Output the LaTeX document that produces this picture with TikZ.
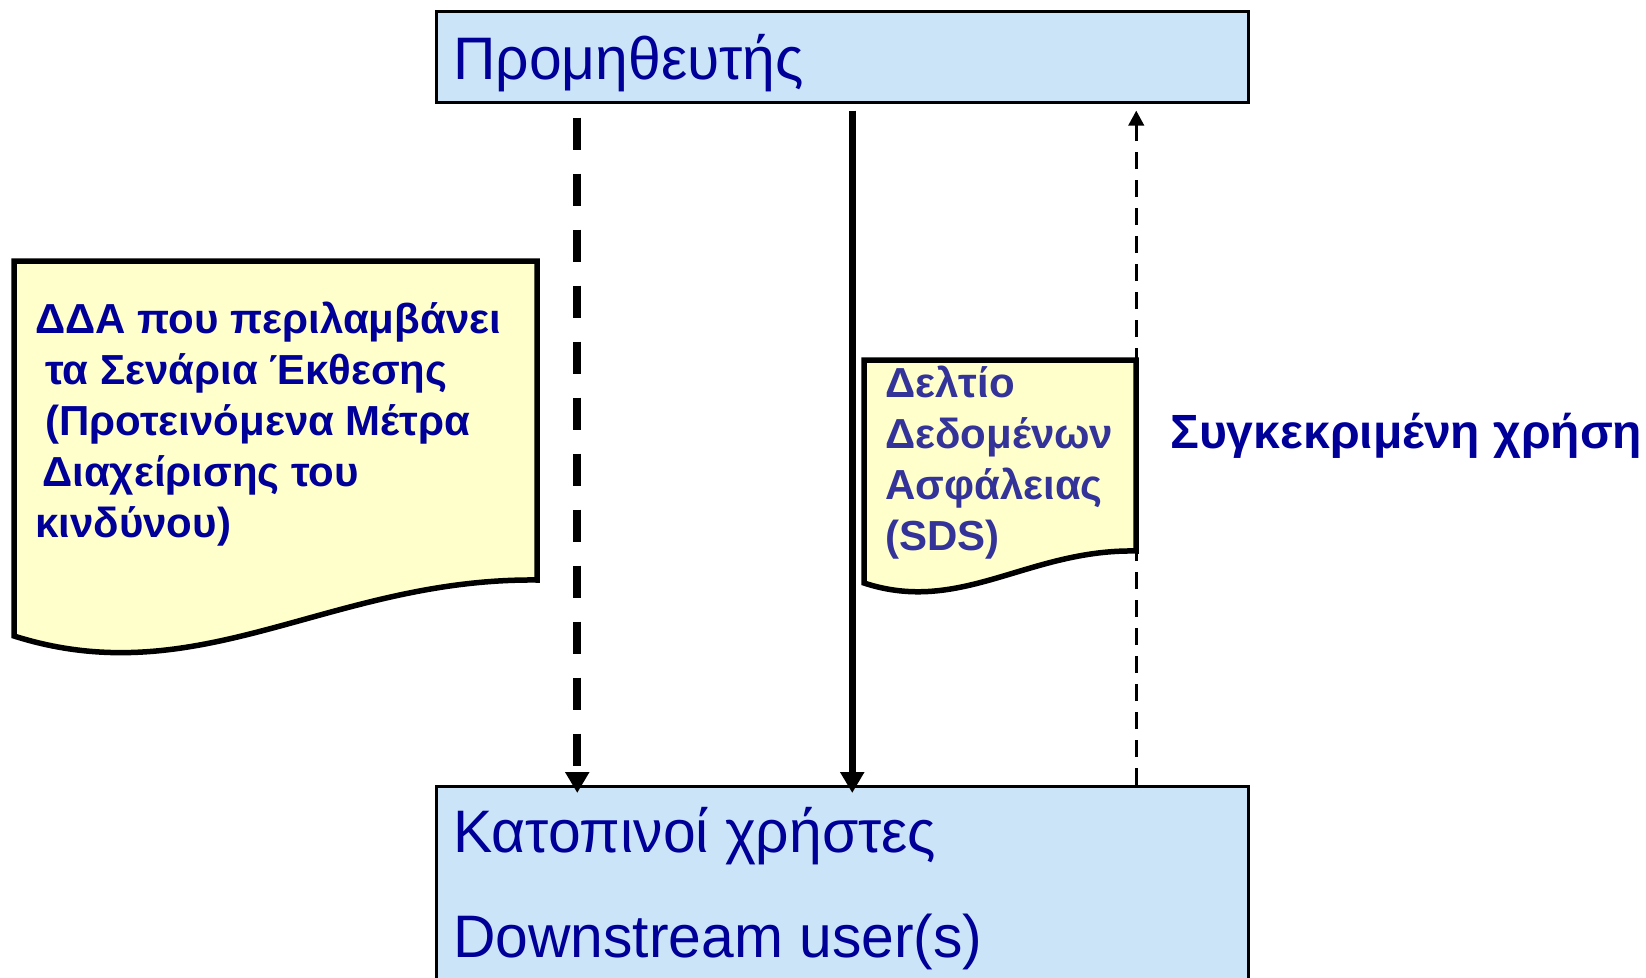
\documentclass[tikz,border=0pt]{standalone}
\usepackage{fontspec}
\setmainfont{Liberation Sans}
\newfontfamily\narrowfont[FakeStretch=0.98]{Liberation Sans}
\usetikzlibrary{arrows.meta}
\definecolor{boxblue}{HTML}{CCE4F7}
\definecolor{notey}{HTML}{FFFFCC}
\definecolor{inkblue}{HTML}{000099}
\definecolor{softblue}{HTML}{333399}

\begin{document}
\begin{tikzpicture}[x=1pt,y=-1pt,
    role box/.style={draw=black,line width=2.5pt,fill=boxblue,anchor=north west,
      minimum width=812pt,inner sep=0pt},
    role text/.style={anchor=base west,inner sep=0pt,text=inkblue,
      font=\narrowfont\fontsize{60}{72}\selectfont},
    note/.style={draw=black,line width=5.5pt,fill=notey},
    note text/.style={anchor=base west,inner sep=0pt,align=left,
      font=\bfseries\fontsize{42}{51}\selectfont},
    heavy dash/.style={line width=8pt,dash pattern=on 32pt off 24pt,
      -{Triangle[length=21pt,width=23pt]}},
    heavy line/.style={line width=7pt,-{Triangle[length=21pt,width=23pt]}},
    light dash/.style={line width=3.5pt,dash pattern=on 17pt off 11pt,
      -{Triangle[length=15pt,width=15pt]}}]
    \useasboundingbox (0,0) rectangle (1646,977);
    % supplier and downstream users
    \node[role box,minimum height=91pt] (sup) at (435,10) {};
    \node[role text] (supText) at (453,79) {Προμηθευτής};
    \node[role box,minimum height=230pt] (dsu) at (435,785) {};
    \node[role text] (dsuGr) at (453,852) {Κατοπινοί χρήστες};
    \node[role text] (dsuEn) at (453,957) {Downstream user(s)};
    % documents
    \draw[note] (14,261) -- (537,261) -- (537,580)
      .. controls (330,578) and (200,695) .. (14,636) -- cycle;
    \node[note text,text=inkblue] (ddaText) at (35,537)
      {ΔΔΑ που περιλαμβάνει\\\hspace*{10pt}τα Σενάρια Έκθεσης\\
       \hspace*{10pt}(Προτεινόμενα Μέτρα\\\hspace*{7pt}Διαχείρισης του\\κινδύνου)};
    \draw[note] (864,360) -- (1136,360) -- (1136,551)
      .. controls (1028,549) and (961,615) .. (864,583) -- cycle;
    \node[note text,text=softblue] (sdsText) at (885,550)
      {Δελτίο\\Δεδομένων\\Ασφάλειας\\(SDS)};
    \node[anchor=base west,inner sep=0pt,text=inkblue,
      font=\bfseries\fontsize{48}{56}\selectfont] (useText) at (1170,448)
      {Συγκεκριμένη χρήση};
    % flows
    \draw[heavy dash,shorten <=14pt,shorten >=-8pt]
      ([xshift=-265pt]sup.south) -- ([xshift=-265pt]dsu.north);
    \draw[heavy line,shorten <=7pt,shorten >=-8pt]
      ([xshift=10pt]sup.south) -- ([xshift=10pt]dsu.north);
    \draw[light dash,shorten >=7pt]
      ([xshift=294pt]dsu.north) -- ([xshift=294pt]sup.south);
\end{tikzpicture}
\end{document}
